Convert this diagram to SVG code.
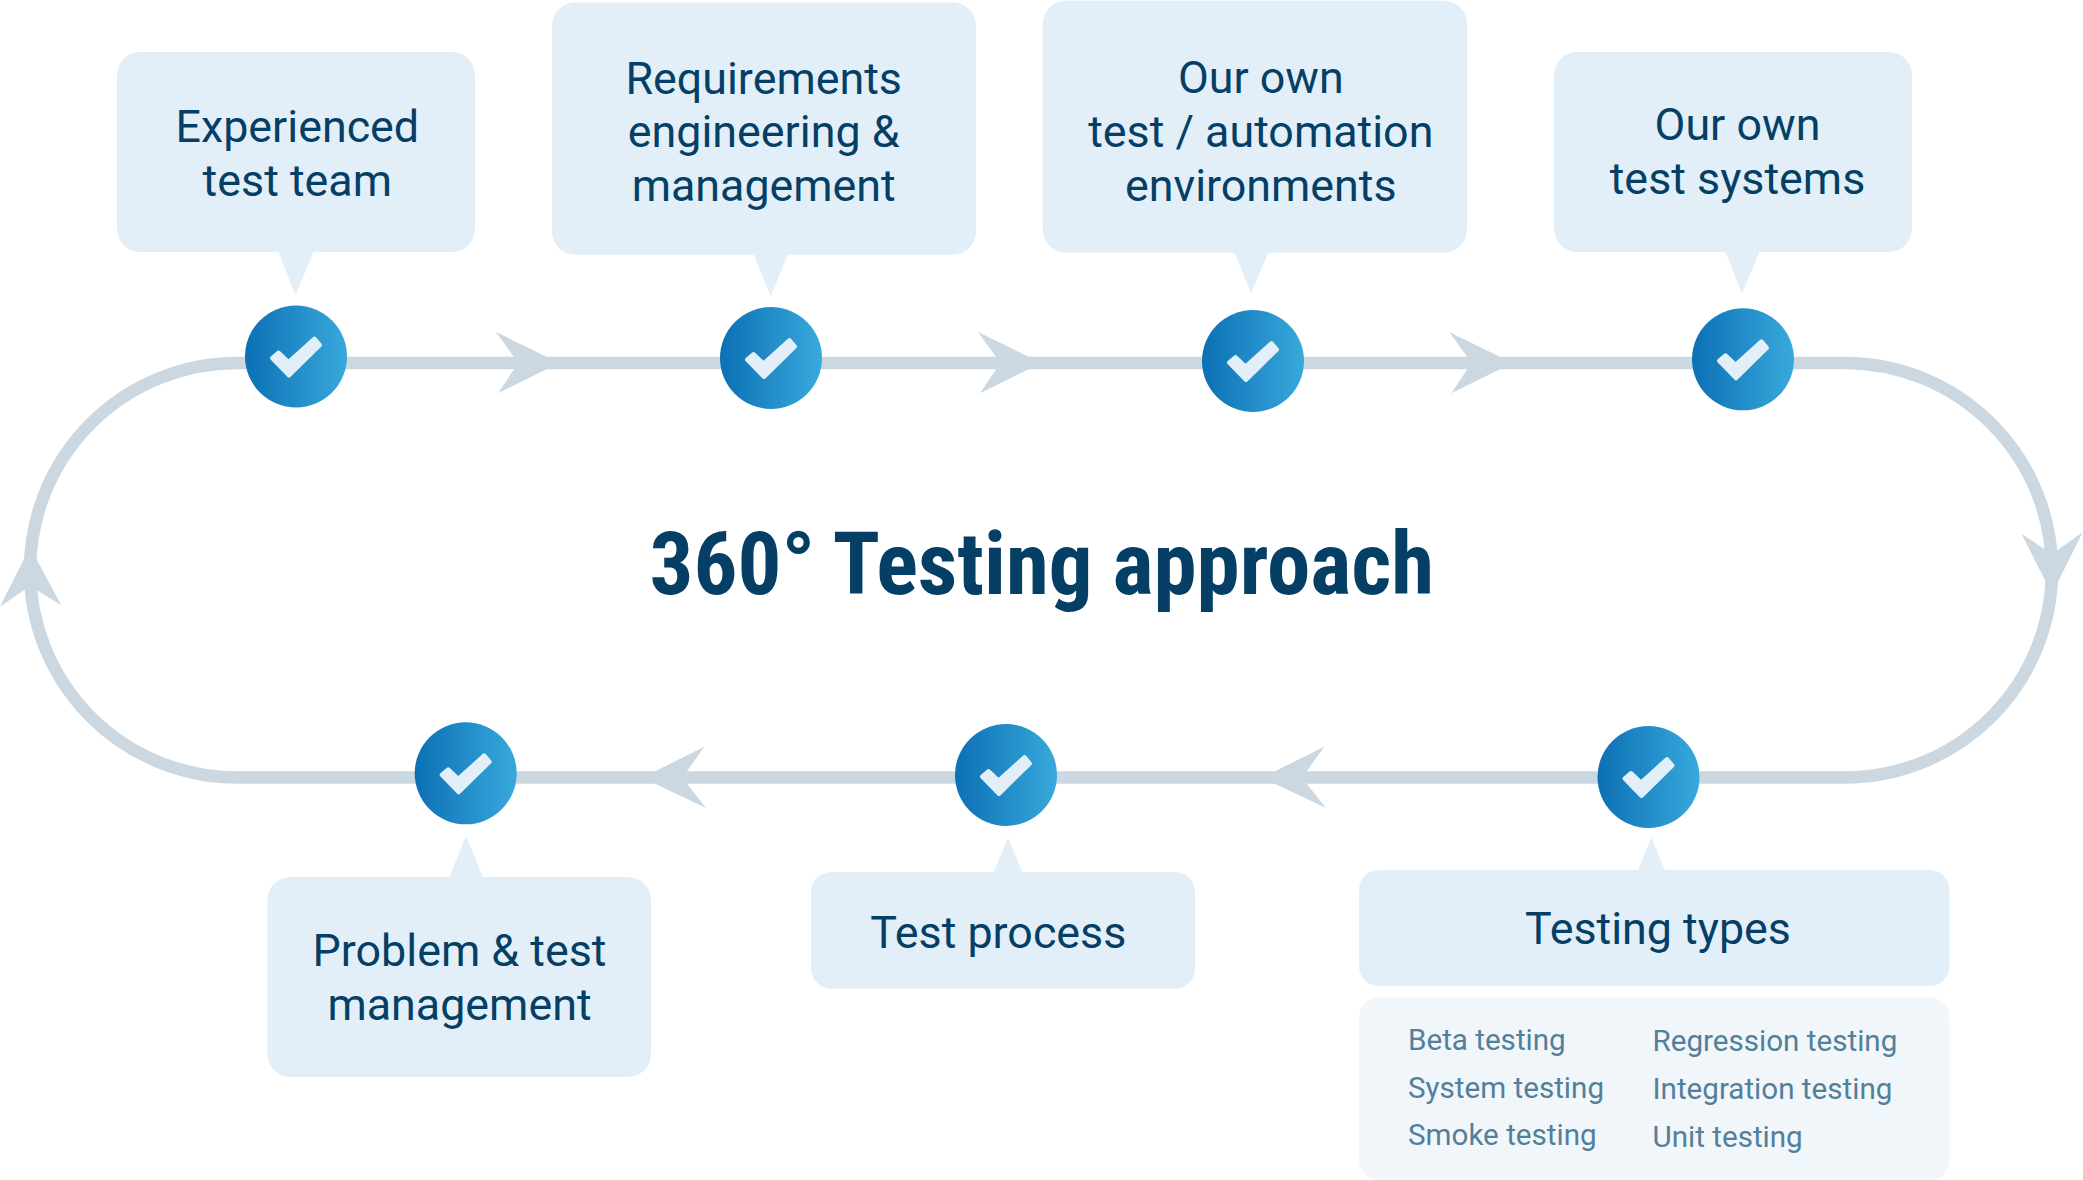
<svg xmlns="http://www.w3.org/2000/svg" xmlns:xlink="http://www.w3.org/1999/xlink" width="2083" height="1180" viewBox="0 0 2083 1180">
<style>
.box{fill:#e2eff8}
.sub{fill:#f1f6fa}
.line{fill:none;stroke:#cbd8e1;stroke-width:12.5}
.head{fill:#cbd8e1}
.dot{fill:url(#grad)}
.chk{fill:#e2eff8;stroke:#e2eff8;stroke-width:4;stroke-linejoin:round}
text{font-family:Roboto,"Liberation Sans",sans-serif}
.lbl{font-size:44.8px;fill:#053f66;text-anchor:middle}
.itm{font-size:29.6px;fill:#52809a;font-weight:400}
.title{font-size:87px;font-weight:700;fill:#053f66;font-stretch:75%}
</style>
<defs>
<linearGradient id="grad" x1="0" y1="0" x2="1" y2="0"><stop offset="0" stop-color="#0c70b4"/><stop offset="1" stop-color="#38a9dc"/></linearGradient>
<g id="badge"><circle class="dot" r="51"/><polygon class="chk" points="-17.5,-4 -24,1.5 -7,19 24,-11.5 18.5,-18 -7.5,5.5"/></g>
</defs>
<g id="connectors">
<path class="line" d="M237.25,363H1844.75A207.25,207.25 0 0 1 1844.75,777.5H237.25A207.25,207.25 0 0 1 237.25,363Z"/>
<polygon class="head" points="559.3,363 496,332 518.3,363 498,393.3"/>
<polygon class="head" points="1041.3,363 978,332 1000.3,363 980,393.3"/>
<polygon class="head" points="1512.6,363 1449.3,332 1471.6,363 1451.3,393.3"/>
<polygon class="head" points="2052,594 2021.7,534 2052,554 2082.7,532.3"/>
<polygon class="head" points="1262,777.7 1324.3,746.7 1302,777.7 1326,808"/>
<polygon class="head" points="642.3,777.7 704.3,746.7 682.3,777.7 706,808"/>
<polygon class="head" points="30,547 0,606.7 30,586 61,605"/>
</g>
<g id="node-experienced-test-team">
<rect class="box" x="117" y="52" width="358" height="200" rx="23"/>
<polygon class="box" points="278,251 314,251 295.5,295"/>
<use href="#badge" x="296" y="356.5"/>
<text class="lbl" x="297.3" y="141.7">Experienced</text>
<text class="lbl" x="297.3" y="196">test team</text>
</g>
<g id="node-requirements">
<rect class="box" x="552" y="2.5" width="424" height="252.2" rx="23"/>
<polygon class="box" points="753.3,254 788.3,254 770.7,296"/>
<use href="#badge" x="771" y="358"/>
<text class="lbl" x="763.7" y="94">Requirements</text>
<text class="lbl" x="763.7" y="147">engineering &amp;</text>
<text class="lbl" x="763.7" y="201">management</text>
</g>
<g id="node-environments">
<rect class="box" x="1042.7" y="0.7" width="424.3" height="252" rx="23"/>
<polygon class="box" points="1234.3,252 1268.7,252 1251,293"/>
<use href="#badge" x="1253" y="361"/>
<text class="lbl" x="1260.8" y="93">Our own</text>
<text class="lbl" x="1260.8" y="147">test / automation</text>
<text class="lbl" x="1260.8" y="201">environments</text>
</g>
<g id="node-test-systems">
<rect class="box" x="1554" y="52" width="358" height="200" rx="23"/>
<polygon class="box" points="1725,251 1760,251 1742,293.3"/>
<use href="#badge" x="1743" y="359.3"/>
<text class="lbl" x="1737.5" y="140.3">Our own</text>
<text class="lbl" x="1737.5" y="194.3">test systems</text>
</g>
<g id="node-testing-types">
<rect class="box" x="1359" y="870" width="590.5" height="116" rx="20"/>
<polygon class="box" points="1637.5,871 1665,871 1651.5,836.7"/>
<use href="#badge" x="1648.5" y="777"/>
<text class="lbl" x="1658" y="943.5">Testing types</text>
<rect class="sub" x="1359" y="997.3" width="590.5" height="182.7" rx="20"/>
<text class="itm" x="1408" y="1050">Beta testing</text>
<text class="itm" x="1408" y="1097.7">System testing</text>
<text class="itm" x="1408" y="1144.7">Smoke testing</text>
<text class="itm" x="1652.5" y="1051">Regression testing</text>
<text class="itm" x="1652.5" y="1098.7">Integration testing</text>
<text class="itm" x="1652.5" y="1146.8">Unit testing</text>
</g>
<g id="node-test-process">
<rect class="box" x="811" y="872" width="384" height="116.7" rx="20"/>
<polygon class="box" points="993.3,873 1022.7,873 1008,837.3"/>
<use href="#badge" x="1006" y="775"/>
<text class="lbl" x="998.3" y="948">Test process</text>
</g>
<g id="node-problem-management">
<rect class="box" x="267.3" y="877" width="383.7" height="200" rx="23"/>
<polygon class="box" points="449,878 483.3,878 466,836"/>
<use href="#badge" x="465.7" y="773.3"/>
<text class="lbl" x="459.5" y="965.7">Problem &amp; test</text>
<text class="lbl" x="459.5" y="1020">management</text>
</g>
<text id="title" class="title" x="649.5" y="594">360° Testing approach</text>
</svg>
